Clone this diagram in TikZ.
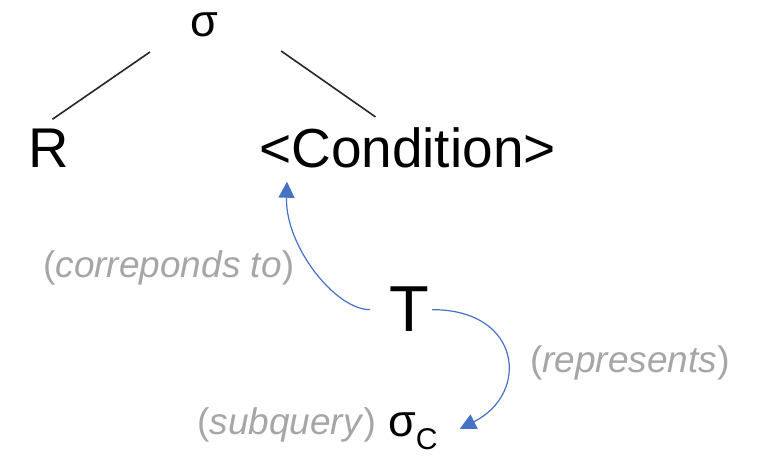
\documentclass[tikz,border=0pt]{standalone}
\usepackage{fontspec}
\setmainfont{Liberation Sans}
\usepackage{tikz}
\usetikzlibrary{positioning,calc,arrows.meta}
\definecolor{linkblue}{HTML}{4472C4}
\definecolor{notegray}{HTML}{A6A6A6}
\tikzstyle{edge} = [line width=1.6pt, black!85]
\tikzstyle{link} = [-{Triangle[length=16pt,width=16pt]}, line width=1.2pt, linkblue]
\tikzstyle{note} = [inner sep=0pt, anchor=base west, text=notegray, font=\fontsize{37}{40}\selectfont]
\tikzstyle{term} = [inner sep=0pt, anchor=base west]

\begin{document}
\begin{tikzpicture}[x=1pt, y=1pt]
    \useasboundingbox (0,0) rectangle (757,455);

    % Tree
    \node[term, font=\fontsize{45}{50}\selectfont] (sig) at (190,418) {σ};
    \node[term, font=\fontsize{56}{60}\selectfont] (R) at (28,287) {R};
    \node[term, font=\fontsize{55}{60}\selectfont] (cond) at (259,287) {<Condition>};
    \draw[edge] ($(sig.base west)+(-40,-15)$) -- ($(R.north)+(4,10)$);
    \draw[edge] ($(sig.base east)+(63,-14)$) -- ($(cond.north)+(-32,11)$);

    % Subquery
    \node[term, font=\fontsize{65}{70}\selectfont] (T) at (389,123) {T};
    \node[term] (sigc) at (388,19) {\fontsize{45}{50}\selectfont σ\raisebox{-13pt}{\fontsize{30}{33}\selectfont C}};

    % Links
    \draw[link] ($(T.west)+(-19,0)$) .. controls +(-35,0) and +(-2,-64) .. ($(cond.south west)+(28,-13)$);
    \draw[link] ($(T.east)+(3,0)$) .. controls +(90,0) and +(70,35) .. ($(sigc.east)+(22,2)$);

    % Notes
    \node[note] (corr) at (43,177) {(\textit{correponds to})};
    \node[note] (repr) at (530,82) {(\textit{represents})};
    \node[note] (subq) at (197,21) {(\textit{subquery})};
\end{tikzpicture}
\end{document}
